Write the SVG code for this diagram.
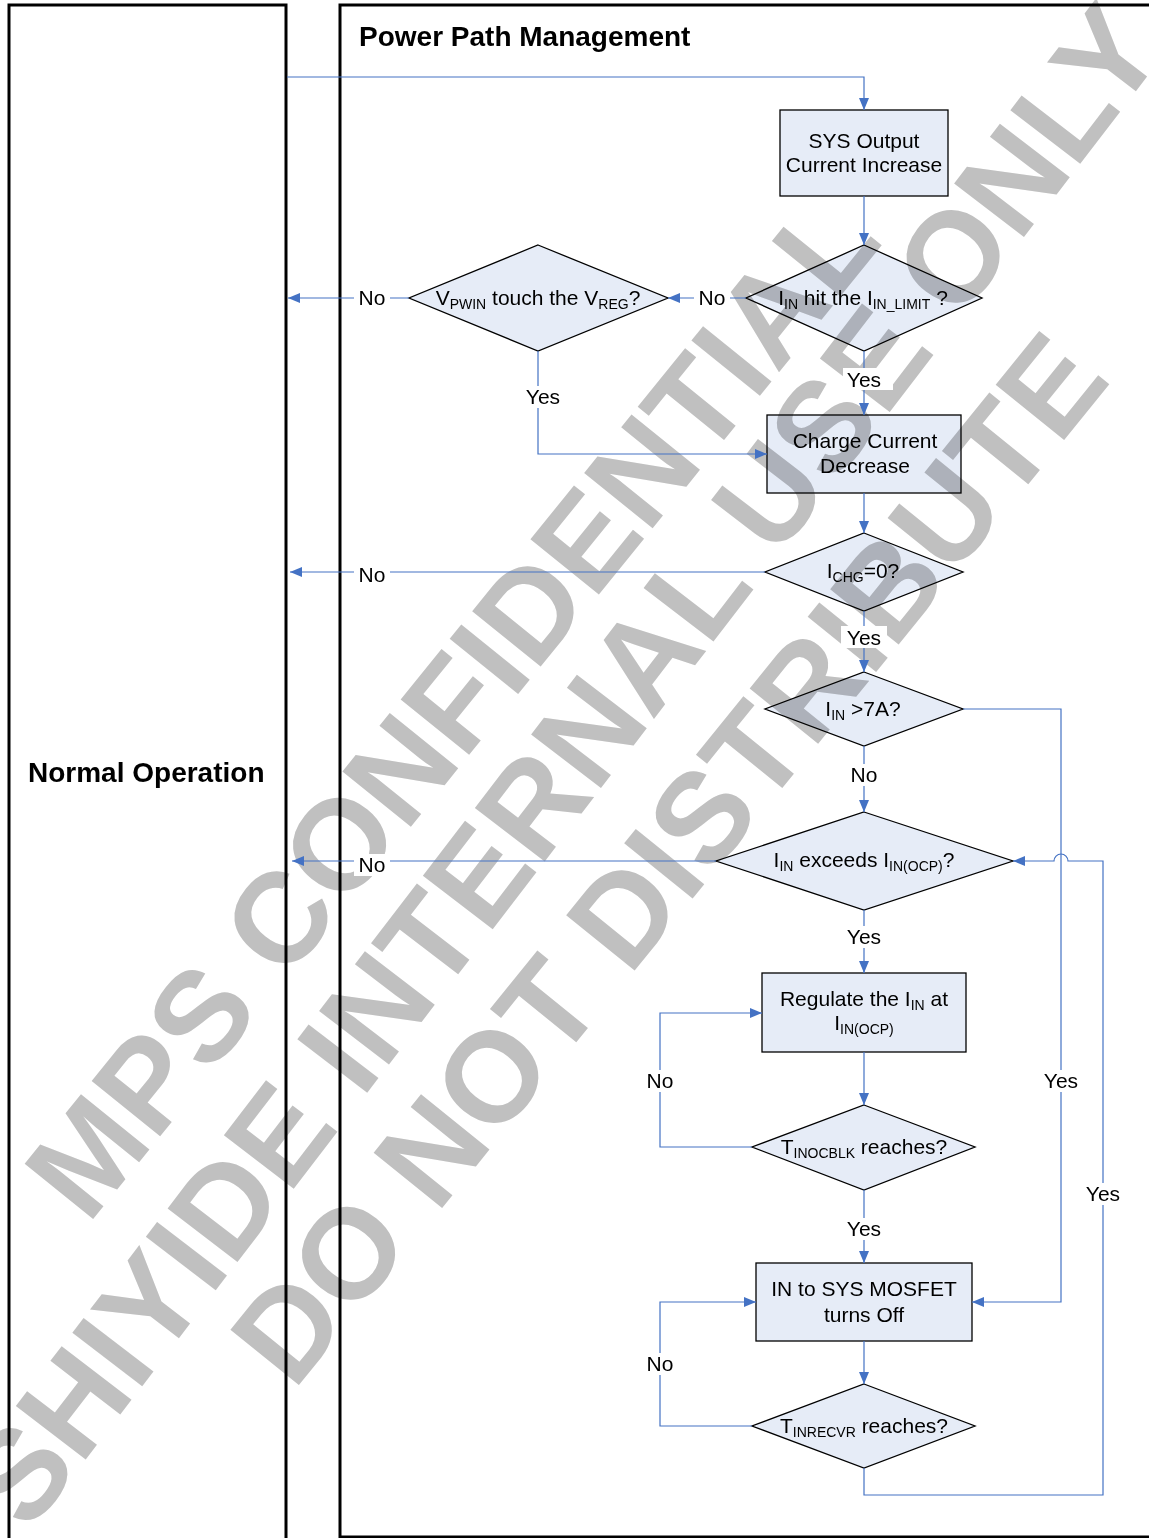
<svg xmlns="http://www.w3.org/2000/svg" width="1149" height="1538" viewBox="0 0 1149 1538">
<style>
text{font-family:'Liberation Sans',Arial,sans-serif;fill:#000}
.panel{fill:none;stroke:#000;stroke-width:3}
.title{font-size:28px;font-weight:bold}
.node{fill:#E6ECF7;stroke:#000;stroke-width:1.3}
.t{font-size:21px;text-anchor:middle}
.s{font-size:14px}
.c{fill:none;stroke:#4472C4;stroke-width:1.2}
.arr{marker-end:url(#ah)}
.lbg{fill:#fff}
.lbl{font-size:21px;text-anchor:middle}
.wm text{font-size:128px;font-weight:bold;fill:#C0C0C0;text-anchor:middle}
</style>
<defs>
<marker id="ah" viewBox="0 0 12 10" refX="12" refY="5" markerWidth="12" markerHeight="10" markerUnits="userSpaceOnUse" orient="auto">
<path d="M0,0 L12,5 L0,10 z" fill="#4472C4"/>
</marker>
</defs>
<rect width="1149" height="1538" fill="#fff"/>
<g id="panels">
<rect class="panel" x="9" y="5" width="277" height="1540"/>
<rect class="panel" x="340" y="5" width="820" height="1532"/>
<text class="title" x="359" y="46">Power Path Management</text>
<text class="title" x="28" y="782">Normal Operation</text>
</g>
<g id="n1"><rect class="node" x="780" y="110" width="168" height="86"/>
<text class="t" x="864" y="148">SYS Output</text><text class="t" x="864" y="172">Current Increase</text></g>
<g id="d2"><polygon class="node" points="864,245 982,298 864,351 746,298"/>
<text class="t" x="863" y="305">I<tspan class="s" dy="4">IN</tspan><tspan dy="-4"> hit the I</tspan><tspan class="s" dy="4">IN_LIMIT</tspan><tspan dy="-4"> ?</tspan></text></g>
<g id="d1"><polygon class="node" points="538,245 668,298 538,351 409,298"/>
<text class="t" x="538" y="305">V<tspan class="s" dy="4">PWIN</tspan><tspan dy="-4"> touch the V</tspan><tspan class="s" dy="4">REG</tspan><tspan dy="-4">?</tspan></text></g>
<g id="n2"><rect class="node" x="767" y="415" width="194" height="78"/>
<text class="t" x="865" y="448">Charge Current</text><text class="t" x="865" y="473">Decrease</text></g>
<g id="d3"><polygon class="node" points="864,533 963,572 864,611 765,572"/>
<text class="t" x="863" y="578">I<tspan class="s" dy="4">CHG</tspan><tspan dy="-4">=0?</tspan></text></g>
<g id="d4"><polygon class="node" points="864,672 963,709 864,746 765,709"/>
<text class="t" x="863" y="716">I<tspan class="s" dy="4">IN</tspan><tspan dy="-4"> &gt;7A?</tspan></text></g>
<g id="d5"><polygon class="node" points="864,812 1013,861 864,910 716,861"/>
<text class="t" x="864" y="867">I<tspan class="s" dy="4">IN</tspan><tspan dy="-4"> exceeds I</tspan><tspan class="s" dy="4">IN(OCP)</tspan><tspan dy="-4">?</tspan></text></g>
<g id="n3"><rect class="node" x="762" y="973" width="204" height="79"/>
<text class="t" x="864" y="1006">Regulate the I<tspan class="s" dy="4">IN</tspan><tspan dy="-4"> at</tspan></text>
<text class="t" x="864" y="1030">I<tspan class="s" dy="4">IN(OCP)</tspan></text></g>
<g id="d6"><polygon class="node" points="864,1105 975,1147 864,1190 752,1147"/>
<text class="t" x="864" y="1154">T<tspan class="s" dy="4">INOCBLK</tspan><tspan dy="-4"> reaches?</tspan></text></g>
<g id="n4"><rect class="node" x="756" y="1263" width="216" height="78"/>
<text class="t" x="864" y="1296">IN to SYS MOSFET</text><text class="t" x="864" y="1322">turns Off</text></g>
<g id="d7"><polygon class="node" points="864,1384 975,1426 864,1468 752,1426"/>
<text class="t" x="864" y="1433">T<tspan class="s" dy="4">INRECVR</tspan><tspan dy="-4"> reaches?</tspan></text></g>
<g id="watermark" class="wm" style="mix-blend-mode:multiply">
<text transform="translate(486,734) rotate(-51)">MPS CONFIDENTIAL</text>
<text transform="translate(598,792) rotate(-52.5)">SHIYIDE INTERNAL USE ONLY</text>
<text transform="translate(703,886) rotate(-51)">DO NOT DISTRIBUTE</text>
</g>
<g id="connectors">
<path class="c arr" d="M287,77 H864 V110"/>
<path class="c arr" d="M864,196 V245"/>
<path class="c arr" d="M746,298 H668"/>
<path class="c arr" d="M409,298 H288"/>
<path class="c arr" d="M538,351 V454 H767"/>
<path class="c arr" d="M864,351 V415"/>
<path class="c arr" d="M864,493 V533"/>
<path class="c arr" d="M765,572 H290"/>
<path class="c arr" d="M864,611 V672"/>
<path class="c arr" d="M963,709 H1061 V1302 H972"/>
<path class="c arr" d="M864,746 V812"/>
<path class="c arr" d="M716,861 H292"/>
<path class="c arr" d="M864,910 V973"/>
<path class="c arr" d="M864,1052 V1105"/>
<path class="c arr" d="M752,1147 H660 V1013 H762"/>
<path class="c arr" d="M864,1190 V1263"/>
<path class="c arr" d="M864,1341 V1384"/>
<path class="c arr" d="M752,1426 H660 V1302 H756"/>
<path class="c arr" d="M864,1468 V1495 H1103 V861 H1068 A7,7 0 0 0 1054,861 H1013"/>
<rect class="lbg" x="354" y="287" width="36" height="22"/><text class="lbl" x="372" y="305">No</text>
<rect class="lbg" x="694" y="287" width="36" height="22"/><text class="lbl" x="712" y="305">No</text>
<rect class="lbg" x="522" y="386" width="42" height="22"/><text class="lbl" x="543" y="404">Yes</text>
<rect class="lbg" x="843" y="368" width="50" height="22"/><text class="lbl" x="864" y="387">Yes</text>
<rect class="lbg" x="354" y="564" width="36" height="22"/><text class="lbl" x="372" y="582">No</text>
<rect class="lbg" x="841" y="626" width="46" height="22"/><text class="lbl" x="864" y="645">Yes</text>
<rect class="lbg" x="846" y="764" width="36" height="22"/><text class="lbl" x="864" y="782">No</text>
<rect class="lbg" x="354" y="854" width="36" height="22"/><text class="lbl" x="372" y="872">No</text>
<rect class="lbg" x="843" y="926" width="42" height="22"/><text class="lbl" x="864" y="944">Yes</text>
<rect class="lbg" x="642" y="1070" width="36" height="22"/><text class="lbl" x="660" y="1088">No</text>
<rect class="lbg" x="1040" y="1070" width="42" height="22"/><text class="lbl" x="1061" y="1088">Yes</text>
<rect class="lbg" x="1082" y="1183" width="42" height="22"/><text class="lbl" x="1103" y="1201">Yes</text>
<rect class="lbg" x="843" y="1218" width="42" height="22"/><text class="lbl" x="864" y="1236">Yes</text>
<rect class="lbg" x="642" y="1353" width="36" height="22"/><text class="lbl" x="660" y="1371">No</text>
</g>
</svg>
